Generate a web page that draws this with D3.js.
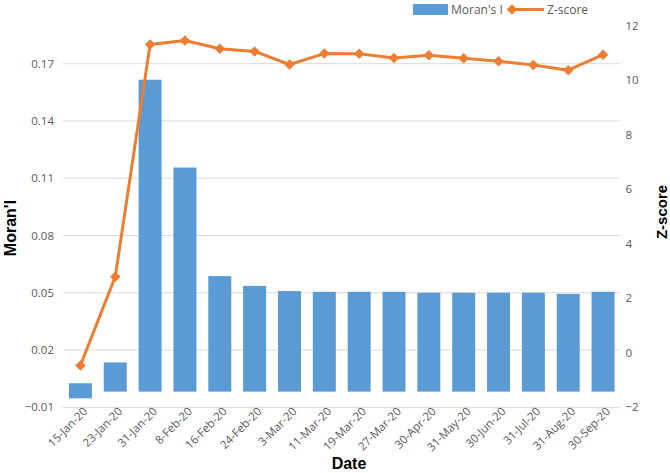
<!DOCTYPE html>
<html>
<head>
<meta charset="utf-8">
<script src="https://cdn.jsdelivr.net/npm/d3@7"></script>
<style>
  body { margin: 0; background: #fff; }
  svg { display: block; }
</style>
</head>
<body>
<svg id="chart" width="670" height="473"></svg>
<script>
// data
const dates = ["15-Jan-20", "23-Jan-20", "31-Jan-20", "8-Feb-20", "16-Feb-20", "24-Feb-20",
  "3-Mar-20", "11-Mar-20", "19-Mar-20", "27-Mar-20", "30-Apr-20", "31-May-20",
  "30-Jun-20", "31-Jul-20", "31-Aug-20", "30-Sep-20"];
const moranI = [0.0026, 0.0135, 0.1616, 0.1156, 0.0587, 0.0536, 0.0509, 0.0505,
  0.0505, 0.0505, 0.0500, 0.0500, 0.0500, 0.0500, 0.0494, 0.0505];
// bottom of each bar (the first one hangs lower in the picture)
const moranBase = [-0.0053, -0.0018, -0.0018, -0.0018, -0.0018, -0.0018, -0.0018, -0.0018,
  -0.0018, -0.0018, -0.0018, -0.0018, -0.0018, -0.0018, -0.0018, -0.0018];
const zScore = [-0.47, 2.79, 11.3, 11.45, 11.15, 11.05, 10.57, 10.97,
  10.96, 10.81, 10.91, 10.8, 10.69, 10.55, 10.36, 10.93];
const leftTicks = [-0.01, 0.02, 0.05, 0.08, 0.11, 0.14, 0.17];
const rightTicks = [-2, 0, 2, 4, 6, 8, 10, 12];

const cfg = {
  left: 63, right: 620.5, top: 25.5, bottom: 407.3,
  barColor: "#5B9BD5",
  lineColor: "#ED7D31",
  gridColor: "#D9D9D9",
  tickColor: "#595959",
  tickFont: "'Open Sans', sans-serif",
  titleFont: "'Liberation Sans', Arial, sans-serif",
};

const svg = d3.select("#chart");

const x = d3.scaleBand()
  .domain(dates)
  .range([cfg.left, cfg.right])
  .paddingInner(0.34)
  .paddingOuter(0.17);
const yL = d3.scaleLinear().domain([-0.01, 0.19]).range([cfg.bottom, cfg.top]);
const yR = d3.scaleLinear().domain([-2, 12]).range([cfg.bottom, cfg.top]);

// gridlines
svg.append("g")
  .selectAll("line")
  .data(leftTicks)
  .join("line")
  .attr("x1", cfg.left)
  .attr("x2", cfg.right)
  .attr("y1", (d) => yL(d))
  .attr("y2", (d) => yL(d))
  .attr("stroke", cfg.gridColor)
  .attr("stroke-width", 1);

// left axis
const leftAxis = svg.append("g")
  .attr("transform", `translate(${cfg.left - 9},0)`)
  .call(d3.axisLeft(yL).tickValues(leftTicks).tickSize(0).tickFormat(d3.format(".2f")));
leftAxis.select(".domain").remove();
leftAxis.selectAll("text")
  .attr("x", 0)
  .attr("fill", cfg.tickColor)
  .style("font-family", cfg.tickFont)
  .style("font-size", "11.5px");

// right axis
const rightAxis = svg.append("g")
  .attr("transform", `translate(${cfg.right + 5},0)`)
  .call(d3.axisRight(yR).tickValues(rightTicks).tickSize(0));
rightAxis.select(".domain").remove();
rightAxis.selectAll("text")
  .attr("x", 0)
  .attr("fill", cfg.tickColor)
  .style("font-family", cfg.tickFont)
  .style("font-size", "11.5px");

// bars
svg.append("g")
  .selectAll("rect")
  .data(dates)
  .join("rect")
  .attr("x", (d) => x(d))
  .attr("width", x.bandwidth())
  .attr("y", (d, i) => yL(moranI[i]))
  .attr("height", (d, i) => yL(moranBase[i]) - yL(moranI[i]))
  .attr("fill", cfg.barColor);

// x axis labels
const xAxis = svg.append("g")
  .attr("transform", `translate(0,${cfg.bottom})`)
  .call(d3.axisBottom(x).tickSize(0));
xAxis.select(".domain").remove();
xAxis.selectAll("text")
  .attr("fill", cfg.tickColor)
  .style("font-family", cfg.tickFont)
  .style("font-size", "11.5px")
  .attr("text-anchor", "end")
  .attr("dy", "0.35em")
  .attr("transform", "translate(5,2) rotate(-45)")
  .attr("y", 0)
  .attr("x", 0);

// z-score line
const cx = (d) => x(d) + x.bandwidth() / 2;
const line = d3.line()
  .x((d, i) => cx(dates[i]))
  .y((d) => yR(d));
svg.append("path")
  .datum(zScore)
  .attr("d", line)
  .attr("fill", "none")
  .attr("stroke", cfg.lineColor)
  .attr("stroke-width", 3)
  .attr("stroke-linejoin", "round");
const diamond = d3.symbol().type(d3.symbolDiamond2).size(70);
svg.append("g")
  .selectAll("path")
  .data(zScore)
  .join("path")
  .attr("d", diamond)
  .attr("transform", (d, i) => `translate(${cx(dates[i])},${yR(d)})`)
  .attr("fill", cfg.lineColor);

// axis titles
svg.append("text")
  .attr("transform", "translate(16,228) rotate(-90)")
  .attr("text-anchor", "middle")
  .style("font-family", cfg.titleFont)
  .style("font-weight", "bold")
  .style("font-size", "16px")
  .text("Moran'I");
svg.append("text")
  .attr("transform", "translate(667,212) rotate(-90)")
  .attr("text-anchor", "middle")
  .style("font-family", cfg.titleFont)
  .style("font-weight", "bold")
  .style("font-size", "15px")
  .text("Z-score");
svg.append("text")
  .attr("x", 349)
  .attr("y", 469)
  .attr("text-anchor", "middle")
  .style("font-family", cfg.titleFont)
  .style("font-weight", "bold")
  .style("font-size", "16px")
  .text("Date");

// legend
const legend = svg.append("g").style("font-family", cfg.tickFont).style("font-size", "12px");
legend.append("rect")
  .attr("x", 413).attr("y", 4).attr("width", 35).attr("height", 11)
  .attr("fill", cfg.barColor);
legend.append("text")
  .attr("x", 451).attr("y", 14)
  .attr("fill", cfg.tickColor)
  .text("Moran's I");
legend.append("line")
  .attr("x1", 510).attr("x2", 544).attr("y1", 9.5).attr("y2", 9.5)
  .attr("stroke", cfg.lineColor).attr("stroke-width", 3);
legend.append("path")
  .attr("d", diamond)
  .attr("transform", "translate(512,9.5)")
  .attr("fill", cfg.lineColor);
legend.append("text")
  .attr("x", 547).attr("y", 14)
  .attr("fill", cfg.tickColor)
  .text("Z-score");
</script>
</body>
</html>
